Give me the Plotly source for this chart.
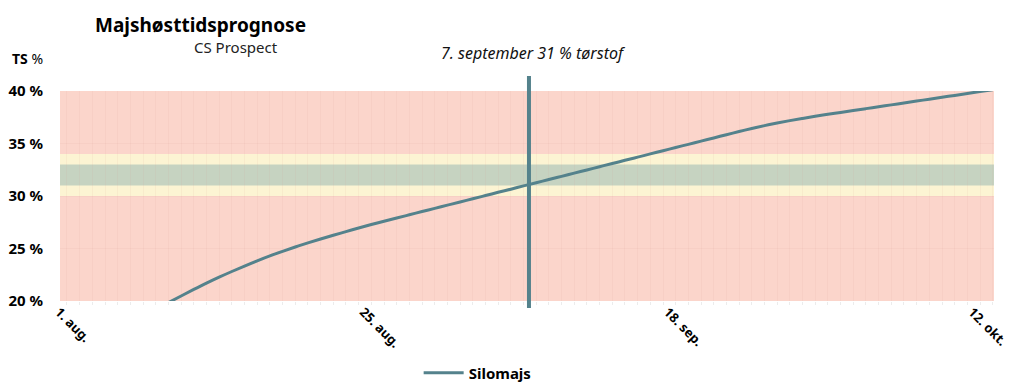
import plotly.graph_objects as go

# ---- data (days counted from 1. aug.) ----
days = list(range(8, 74))
ts_values = [
    19.85, 20.48, 21.10, 21.70, 22.27, 22.81, 23.33, 23.83, 24.30, 24.73,
    25.14, 25.53, 25.90, 26.26, 26.61, 26.95, 27.28, 27.60, 27.91, 28.21,
    28.52, 28.82, 29.13, 29.43, 29.74, 30.04, 30.35, 30.65, 30.96, 31.26,
    31.57, 31.87, 32.18, 32.48, 32.79, 33.09, 33.40, 33.70, 34.01, 34.31,
    34.62, 34.92, 35.23, 35.53, 35.84, 36.14, 36.43, 36.70, 36.95, 37.18,
    37.39, 37.59, 37.78, 37.96, 38.14, 38.32, 38.50, 38.68, 38.86, 39.04,
    39.22, 39.40, 39.58, 39.76, 39.94, 40.12,
]
tick_days = [0, 24, 48, 72]
tick_labels = ["1. aug.", "25. aug.", "18. sep.", "12. okt."]
y_ticks = [20, 25, 30, 35, 40]

harvest_day = 36.43
harvest_text = "7. september 31 % tørstof"

zone_red = (20, 40)
zone_yellow = (30, 34)
zone_green = (31, 33)

series_name = "Silomajs"
title = "Majshøsttidsprognose"
subtitle = "CS Prospect"

FONT = "Noto Sans"
LINE_COLOR = "#54828c"
GRID = "rgba(215,160,150,0.10)"

fig = go.Figure()
fig.add_trace(go.Scatter(
    x=days, y=ts_values, mode="lines", name="<b>" + series_name + "</b>",
    line=dict(color=LINE_COLOR, width=3, shape="spline", smoothing=1.0),
    showlegend=True,
))

# background zones
for (lo, hi), col in [(zone_red, "#fbd5cb"), (zone_yellow, "#fcf4d3"), (zone_green, "#c6d3c1")]:
    fig.add_shape(type="rect", xref="paper", yref="y", x0=0, x1=1, y0=lo, y1=hi,
                  fillcolor=col, line_width=0, layer="below")

# harvest vertical line
fig.add_shape(type="line", xref="x", yref="paper", x0=harvest_day, x1=harvest_day,
              y0=-0.033, y1=1.071, line=dict(color=LINE_COLOR, width=4), layer="above")

fig.add_annotation(x=harvest_day, xref="x", y=1.181, yref="paper",
                   text="<i>" + harvest_text + "</i>",
                   showarrow=False, xshift=5, xanchor="center", yanchor="middle",
                   font=dict(family=FONT, size=16, color="#111"))

fig.add_annotation(x=0.1499, xref="paper", y=1.314, yref="paper", text="<b>" + title + "</b>",
                   showarrow=False, xanchor="center", yanchor="middle",
                   font=dict(family=FONT, size=19, color="#000"))
fig.add_annotation(x=0.1884, xref="paper", y=1.2095, yref="paper", text=subtitle,
                   showarrow=False, xanchor="center", yanchor="middle",
                   font=dict(family=FONT, size=15, color="#222"))
fig.add_annotation(x=-0.0535, xref="paper", xanchor="left", y=1.157, yref="paper",
                   text="<b>TS</b> %", showarrow=False, yanchor="middle",
                   font=dict(family=FONT, size=14, color="#000"))

fig.update_layout(
    width=1008, height=376,
    margin=dict(l=52, r=22, t=83, b=83, autoexpand=False),
    paper_bgcolor="white", plot_bgcolor="white",
    font=dict(family=FONT, color="#000"),
    showlegend=True,
    legend=dict(orientation="h", x=0.384, xanchor="left", y=-0.343, yanchor="middle",
                font=dict(family=FONT, size=15, color="#000"),
                itemwidth=40),
    xaxis=dict(
        range=[-0.55, 73.1], automargin=False, ticklabeloverflow="allow",
        ticklabelshift=-8,
        tickmode="array", tickvals=tick_days, ticktext=["<b>" + t + "</b>" for t in tick_labels],
        tickangle=45, tickfont=dict(family=FONT, size=13, color="#000"),
        showgrid=False, zeroline=False, showline=False, ticks="",
        minor=dict(tickmode="linear", tick0=0, dtick=1, showgrid=True,
                   gridcolor=GRID, gridwidth=1,
                   ticks="outside", ticklen=3, tickcolor="#ececec"),
    ),
    yaxis=dict(
        range=[20, 40], automargin=False, tickmode="array", tickvals=y_ticks,
        ticktext=["<b>%d %%</b>" % v for v in y_ticks],
        tickfont=dict(family=FONT, size=15, color="#000"),
        showgrid=True, gridcolor=GRID, zeroline=False, showline=False,
        ticks="outside", ticklen=13, tickcolor="rgba(0,0,0,0)",
    ),
)

fig.write_html("out.html")
